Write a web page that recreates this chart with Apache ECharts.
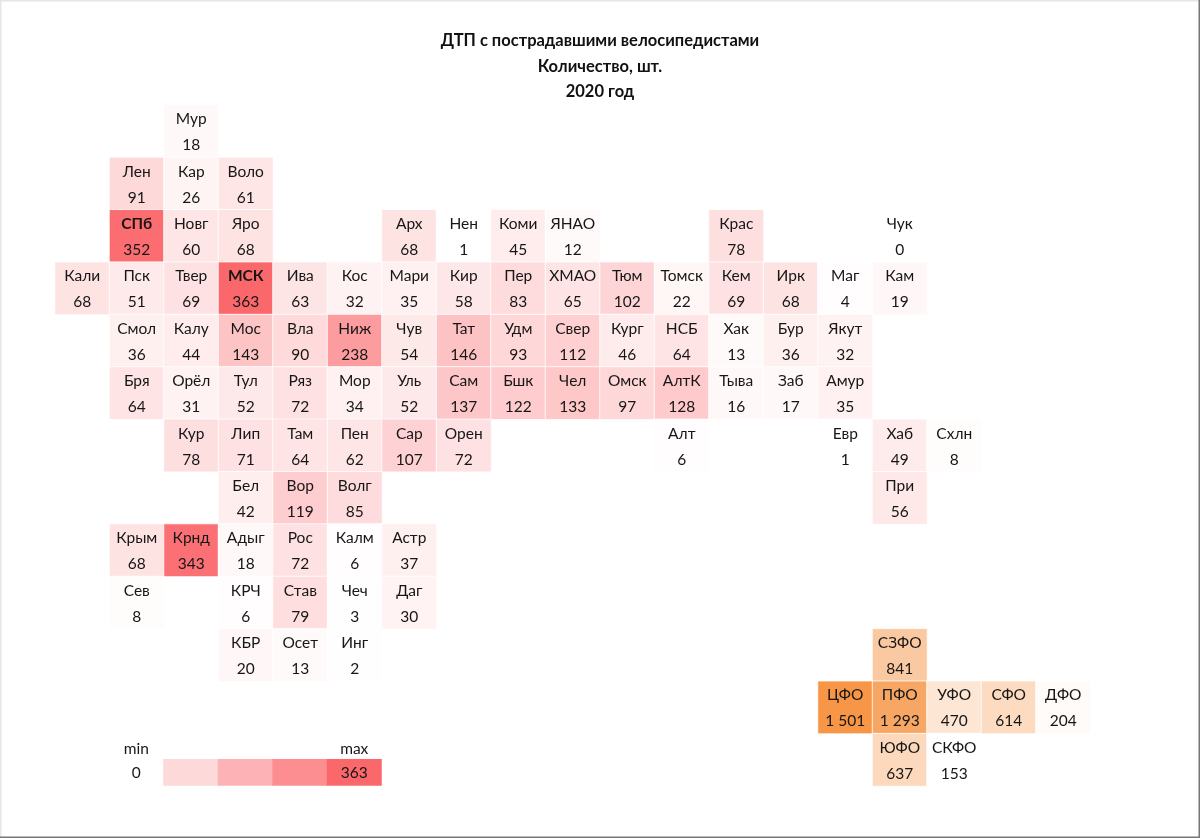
<!DOCTYPE html>
<html>
<head>
<meta charset="utf-8">
<script src="https://cdn.jsdelivr.net/npm/echarts@6/dist/echarts.min.js"></script>
<style>
  html, body { margin: 0; padding: 0; background: #fff; }
  #chart { width: 1200px; height: 838px; }
</style>
</head>
<body>
<div id="chart"></div>
<script>
// regions, one list per map row, the list index is the map column
const regionNames = [
  ["", "", "Мур"],
  ["", "Лен", "Кар", "Воло"],
  ["", "СПб", "Новг", "Яро", "", "", "Арх", "Нен", "Коми", "ЯНАО", "", "", "Крас", "", "", "Чук"],
  ["Кали", "Пск", "Твер", "МСК", "Ива", "Кос", "Мари", "Кир", "Пер", "ХМАО", "Тюм", "Томск", "Кем", "Ирк", "Маг", "Кам"],
  ["", "Смол", "Калу", "Мос", "Вла", "Ниж", "Чув", "Тат", "Удм", "Свер", "Кург", "НСБ", "Хак", "Бур", "Якут"],
  ["", "Бря", "Орёл", "Тул", "Ряз", "Мор", "Уль", "Сам", "Бшк", "Чел", "Омск", "АлтК", "Тыва", "Заб", "Амур"],
  ["", "", "Кур", "Лип", "Там", "Пен", "Сар", "Орен", "", "", "", "Алт", "", "", "Евр", "Хаб", "Схлн"],
  ["", "", "", "Бел", "Вор", "Волг", "", "", "", "", "", "", "", "", "", "При"],
  ["", "Крым", "Крнд", "Адыг", "Рос", "Калм", "Астр"],
  ["", "Сев", "", "КРЧ", "Став", "Чеч", "Даг"],
  ["", "", "", "КБР", "Осет", "Инг"]
];
const regionValues = [
  [null, null, 18],
  [null, 91, 26, 61],
  [null, 352, 60, 68, null, null, 68, 1, 45, 12, null, null, 78, null, null, 0],
  [68, 51, 69, 363, 63, 32, 35, 58, 83, 65, 102, 22, 69, 68, 4, 19],
  [null, 36, 44, 143, 90, 238, 54, 146, 93, 112, 46, 64, 13, 36, 32],
  [null, 64, 31, 52, 72, 34, 52, 137, 122, 133, 97, 128, 16, 17, 35],
  [null, null, 78, 71, 64, 62, 107, 72, null, null, null, 6, null, null, 1, 49, 8],
  [null, null, null, 42, 119, 85, null, null, null, null, null, null, null, null, null, 56],
  [null, 68, 343, 18, 72, 6, 37],
  [null, 8, null, 6, 79, 3, 30],
  [null, null, null, 20, 13, 2]
];
const boldNames = ["СПб", "МСК"];

// federal districts: same grid, rows 10..12
const districtCells = [
  ["СЗФО", 15, 10, 841],
  ["ЦФО", 14, 11, 1501],
  ["ПФО", 15, 11, 1293],
  ["УФО", 16, 11, 470],
  ["СФО", 17, 11, 614],
  ["ДФО", 18, 11, 204],
  ["ЮФО", 15, 12, 637],
  ["СКФО", 16, 12, 153]
];

const legendSteps = [91, 182, 272, 363];
const legendMin = 0;
const legendMax = 363;

const columns = [];
for (let i = 0; i < 19; i++) columns.push(String(i));
const rows = [];
for (let i = 0; i < 13; i++) rows.push(String(i));

const regionData = [];
regionNames.forEach((row, r) => {
  row.forEach((name, c) => {
    if (name) regionData.push({ name: name, value: [c, r, regionValues[r][c]] });
  });
});
const districtData = districtCells.map((d) => ({ name: d[0], value: [d[1], d[2], d[3]] }));

// legend grid has 5 columns and 2 half-height rows
const legendData = [
  { name: "min", value: [0, 0, legendMin], label: { offset: [0, 3] } },
  { name: String(legendMin), value: [0, 1, legendMin] },
  { name: "max", value: [4, 0, legendMin], label: { offset: [0, 3] } }
];
legendSteps.forEach((v, i) => {
  legendData.push({ name: v === legendMax ? String(v) : "", value: [i + 1, 1, v] });
});

const FONT = "Lato, 'Open Sans', sans-serif";
const TEXT = "#161616";
const FONT_SIZE = 15.5;

function fmt(v) {
  return String(v).replace(/\B(?=(\d{3})+$)/g, " ");
}

function tileLabel(p) {
  const style = boldNames.includes(p.name) ? "b" : "n";
  return "{" + style + "|" + p.name + "}\n{n|" + fmt(p.value[2]) + "}";
}

const tileRich = {
  n: { fontFamily: FONT, fontSize: FONT_SIZE, lineHeight: 26, color: TEXT },
  b: { fontFamily: FONT, fontSize: FONT_SIZE, lineHeight: 26, color: TEXT, fontWeight: "bold" }
};

const chart = echarts.init(document.getElementById("chart"), null, { width: 1200, height: 838 });
chart.setOption({
  animation: false,
  backgroundColor: "#fff",
  title: {
    text: "ДТП с пострадавшими велосипедистами\nКоличество, шт.\n2020 год",
    left: 600,
    top: 28,
    padding: 0,
    textAlign: "center",
    textStyle: { fontFamily: FONT, fontSize: 16.5, fontWeight: "bold", lineHeight: 25.5, color: "#111" }
  },
  // thin frame of the source screenshot
  graphic: [
    { type: "line", shape: { x1: 0.5, y1: 0, x2: 0.5, y2: 838 }, style: { stroke: "#e6e6e6", lineWidth: 2 } },
    { type: "line", shape: { x1: 0, y1: 0.5, x2: 1200, y2: 0.5 }, style: { stroke: "#e6e6e6", lineWidth: 2 } },
    { type: "line", shape: { x1: 1199.5, y1: 0, x2: 1199.5, y2: 838 }, style: { stroke: "#777", lineWidth: 2 } },
    { type: "line", shape: { x1: 0, y1: 837.5, x2: 1200, y2: 837.5 }, style: { stroke: "#777", lineWidth: 2 } }
  ],
  grid: [
    { left: 55, top: 105, width: 1035.5, height: 681 },
    { left: 109, top: 733, width: 272.5, height: 52.4 }
  ],
  xAxis: [
    { type: "category", data: columns, show: false, gridIndex: 0 },
    { type: "category", data: ["0", "1", "2", "3", "4"], show: false, gridIndex: 1 }
  ],
  yAxis: [
    { type: "category", data: rows, show: false, inverse: true, gridIndex: 0 },
    { type: "category", data: ["0", "1"], show: false, inverse: true, gridIndex: 1 }
  ],
  visualMap: [
    { show: false, seriesIndex: [0, 2], dimension: 2, min: 0, max: 363, inRange: { color: ["#ffffff", "#fb686c"] } },
    { show: false, seriesIndex: 1, dimension: 2, min: 153, max: 1501, inRange: { color: ["#ffffff", "#f79646"] } }
  ],
  series: [
    {
      type: "heatmap",
      data: regionData,
      itemStyle: { borderColor: "#fff", borderWidth: 0.8 },
      label: { show: true, formatter: tileLabel, rich: tileRich, offset: [0, 1] }
    },
    {
      type: "heatmap",
      data: districtData,
      itemStyle: { borderColor: "#fff", borderWidth: 0.8 },
      label: { show: true, formatter: tileLabel, rich: tileRich, offset: [0, 1] }
    },
    {
      type: "heatmap",
      xAxisIndex: 1,
      yAxisIndex: 1,
      data: legendData,
      label: {
        show: true,
        formatter: (p) => p.name,
        fontFamily: FONT,
        fontSize: FONT_SIZE,
        color: TEXT,
        offset: [0, 1]
      }
    }
  ]
});
</script>
</body>
</html>
